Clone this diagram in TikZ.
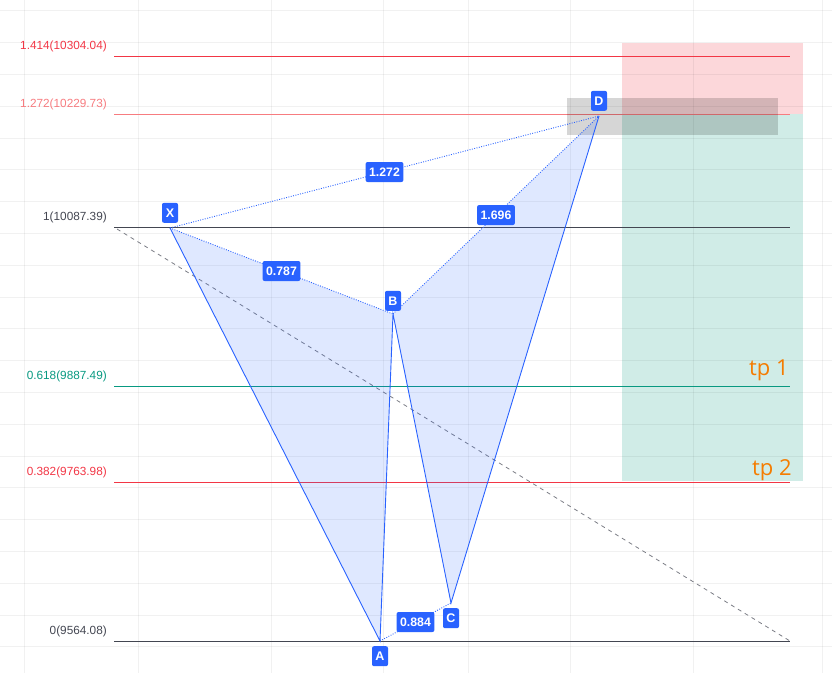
\documentclass[tikz,border=0pt]{standalone}
\usepackage{fontspec}
\setmainfont{Liberation Sans}
\newfontfamily\tpfont{Open Sans}
\usetikzlibrary{positioning}
\definecolor{tvblue}{HTML}{2962FF}
\definecolor{tvred}{HTML}{F23645}
\definecolor{tvpink}{HTML}{F77C80}
\definecolor{tvgreen}{HTML}{089981}
\definecolor{tvgray}{HTML}{434651}
\definecolor{tvorange}{HTML}{F57C00}
\tikzset{
  diem/.style={fill=tvblue,text=white,rounded corners=2pt,inner sep=0pt,
    minimum width=16pt,minimum height=20pt,font=\bfseries\fontsize{12.5}{12.5}\selectfont},
  tyle/.style={fill=tvblue,text=white,rounded corners=2pt,inner xsep=3.5pt,inner ysep=0pt,
    minimum height=20pt,font=\bfseries\fontsize{12.3}{12.3}\selectfont},
  canh/.style={tvblue,line width=0.9pt},
  cham/.style={tvblue,line width=0.9pt,dash pattern=on 0.9pt off 1.5pt},
  mucfib/.style={anchor=east,inner sep=0pt,font=\fontsize{11.8}{12}\selectfont},
  tp/.style={anchor=west,text=tvorange,inner sep=0pt,font=\tpfont\fontsize{22}{22}\selectfont}
}
\begin{document}
\begin{tikzpicture}[x=1pt,y=-1pt]
	\useasboundingbox (0,0) rectangle (832,673);
	%Vung lo, vung loi
	\fill[tvred!20] (622,43) rectangle (803,114);
	\fill[tvgreen!19] (622,114) rectangle (803,481);
	%Luoi
	\foreach \k in {0,...,20}
		\draw[black,opacity=0.055] (0,10.5+31.8*\k) -- (832,10.5+31.8*\k);
	\foreach \x in {24,138,271,383,468,570,693,822}
		\draw[black,opacity=0.055] (\x,0) -- (\x,673);
	%Muc Fibonacci
	\foreach \c/\y/\muc in {tvred/56.5/1.414(10304.04),tvpink/114.5/1.272(10229.73),
		tvgray/227.5/1(10087.39),tvgreen/386.5/0.618(9887.49),
		tvred/482.5/0.382(9763.98),tvgray/641/0(9564.08)}{
		\draw[color=\c,line width=1pt] (114,\y) -- (790,\y);
		\node[mucfib,text=\c] at (107,\y-10) {\muc};
	}
	\fill[black,fill opacity=0.16] (567,98) rectangle (778,135);
	%Duong cheo
	\draw[tvgray!70,line width=0.8pt,dash pattern=on 4pt off 4pt] (117,229) -- (790,641);
	%Cac dinh
	\coordinate (X) at (170,228);
	\coordinate (A) at (380,641);
	\coordinate (B) at (393,314);
	\coordinate (C) at (451,603);
	\coordinate (D) at (599,116);
	%Tam giac
	\fill[tvblue,fill opacity=0.15] (X) -- (A) -- (B) -- cycle;
	\fill[tvblue,fill opacity=0.15] (B) -- (C) -- (D) -- cycle;
	\draw[canh] (X) -- (A) -- (B) -- (C) -- (D);
	%Ti le
	\draw[cham] (X) -- (D) node[tyle,midway] (xd) {1.272};
	\draw[cham] (X) -- (B) node[tyle,midway] (xb) {0.787};
	\draw[cham] (B) -- (D) node[tyle,midway] (bd) {1.696};
	\draw[cham] (A) -- (C) node[tyle,midway] (ac) {0.884};
	%Nhan dinh
	\node[diem,above=5pt of X] (nX) {X};
	\node[diem,below=5pt of A] (nA) {A};
	\node[diem,above=3pt of B] (nB) {B};
	\node[diem,below=5pt of C] (nC) {C};
	\node[diem,above=5pt of D] (nD) {D};
	%Chot loi
	\node[tp] (tp1) at (749,370) {tp 1};
	\node[tp] (tp2) at (752,470) {tp 2};
\end{tikzpicture}
\end{document}
